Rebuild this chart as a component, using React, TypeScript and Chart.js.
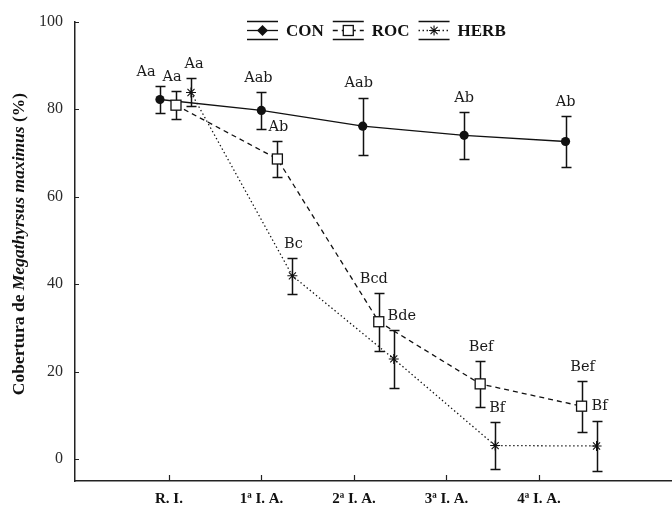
import React, { useEffect, useRef } from 'react';
import { Chart, registerables } from 'chart.js';

Chart.register(...registerables);

// ---------- data ----------
const categories = ['R. I.', '1ª I. A.', '2ª I. A.', '3ª I. A.', '4ª I. A.'];
const yTicks = [0, 20, 40, 60, 80, 100];

const conMean = [82.2, 79.7, 76.1, 74.0, 72.6];
const conErr = [3.1, 4.2, 6.5, 5.3, 5.8];
const conLetters = ['Aa', 'Aab', 'Aab', 'Ab', 'Ab'];

const rocMean = [80.9, 68.6, 31.4, 17.2, 12.1];
const rocErr = [3.2, 4.1, 6.6, 5.2, 5.8];
const rocLetters = ['Aa', 'Ab', 'Bcd', 'Bef', 'Bef'];

const herbMean = [83.8, 41.9, 22.9, 3.1, 3.0];
const herbErr = [3.2, 4.1, 6.6, 5.4, 5.8];
const herbLetters = ['Aa', 'Bc', 'Bde', 'Bf', 'Bf'];

const seriesNames = ['CON', 'ROC', 'HERB'];

// ---------- layout / style ----------
const SERIES_SHIFT = [0, 0.158, 0.306];
const LETTER_DX = [
  [-14, -3, -4, 0, 0],
  [-4, 1, -5, 1, 1],
  [3, 1, 8, 2, 3],
];
const INK = '#111';
const SERIF = '"Liberation Serif", "Times New Roman", serif';
const LETTER_FONT = '14.5px "DejaVu Serif", serif';

const makePoints = (means: number[], shift: number) =>
  means.map((v, i) => ({ x: i + shift, y: v }));

function drawMarker(ctx: CanvasRenderingContext2D, kind: number, x: number, y: number, legend = false) {
  ctx.save();
  ctx.lineWidth = 1.3;
  ctx.strokeStyle = INK;
  ctx.setLineDash([]);
  if (kind === 0) {
    ctx.fillStyle = INK;
    ctx.beginPath();
    if (legend) {
      ctx.moveTo(x, y - 5.5); ctx.lineTo(x + 5.5, y); ctx.lineTo(x, y + 5.5); ctx.lineTo(x - 5.5, y); ctx.closePath();
    } else {
      ctx.arc(x, y, 4.6, 0, Math.PI * 2);
    }
    ctx.fill();
  } else if (kind === 1) {
    ctx.fillStyle = '#fff';
    ctx.fillRect(x - 5, y - 5, 10, 10);
    ctx.strokeRect(x - 5, y - 5, 10, 10);
  } else {
    ctx.lineWidth = 1.1;
    const r = 5;
    ctx.beginPath();
    for (let k = 0; k < 4; k++) {
      const a = (k * Math.PI) / 4;
      ctx.moveTo(x - r * Math.cos(a), y - r * Math.sin(a));
      ctx.lineTo(x + r * Math.cos(a), y + r * Math.sin(a));
    }
    ctx.stroke();
  }
  ctx.restore();
}

const DASHES = [[], [5, 4], [1.4, 2.6]];

const customPlugin = {
  id: 'customDraw',
  beforeDatasetsDraw(chart: any) {
    const ctx = chart.ctx as CanvasRenderingContext2D;
    const ys = chart.scales.y;
    ctx.save();
    ctx.strokeStyle = INK;
    ctx.lineWidth = 1.5;
    ctx.setLineDash([]);
    chart.data.datasets.forEach((ds: any, di: number) => {
      const meta = chart.getDatasetMeta(di);
      meta.data.forEach((pt: any, i: number) => {
        const v = ds.data[i].y;
        const e = ds.errors[i];
        const yt = Math.round(ys.getPixelForValue(v + e)) + 0.5;
        const yb = Math.round(ys.getPixelForValue(v - e)) + 0.5;
        const x = Math.round(pt.x) + 0.5;
        ctx.beginPath();
        ctx.moveTo(x, yt); ctx.lineTo(x, yb);
        ctx.moveTo(x - 5, yt); ctx.lineTo(x + 5, yt);
        ctx.moveTo(x - 5, yb); ctx.lineTo(x + 5, yb);
        ctx.stroke();
      });
    });
    ctx.restore();
  },
  afterDatasetsDraw(chart: any) {
    const ctx = chart.ctx as CanvasRenderingContext2D;
    const ys = chart.scales.y;
    chart.data.datasets.forEach((ds: any, di: number) => {
      const meta = chart.getDatasetMeta(di);
      meta.data.forEach((pt: any) => {
        drawMarker(ctx, di, pt.x, pt.y);
      });
    });
    ctx.save();
    ctx.font = LETTER_FONT;
    ctx.fillStyle = '#1a1a1a';
    ctx.textAlign = 'center';
    ctx.textBaseline = 'middle';
    chart.data.datasets.forEach((ds: any, di: number) => {
      const meta = chart.getDatasetMeta(di);
      meta.data.forEach((pt: any, i: number) => {
        const v = ds.data[i].y;
        const yt = ys.getPixelForValue(v + ds.errors[i]);
        ctx.fillText(ds.letters[i], pt.x + LETTER_DX[di][i], yt - 14);
      });
    });
    ctx.restore();
  },
  afterDraw(chart: any) {
    const ctx = chart.ctx as CanvasRenderingContext2D;
    const xs = chart.scales.x;
    const ys = chart.scales.y;
    const area = chart.chartArea;
    ctx.save();
    ctx.strokeStyle = '#222';
    ctx.lineWidth = 1.2;
    ctx.beginPath();
    xs.ticks.forEach((t: any) => {
      const px = Math.round(xs.getPixelForValue(t.value)) + 0.5;
      ctx.moveTo(px, area.bottom); ctx.lineTo(px, area.bottom - 6);
    });
    ys.ticks.forEach((t: any) => {
      const py = Math.round(ys.getPixelForValue(t.value)) + 0.5;
      ctx.moveTo(area.left, py); ctx.lineTo(area.left + 4, py);
    });
    ctx.stroke();

    // y-axis title with italic species name
    const parts = [
      { t: 'Cobertura de ', f: `bold 17.5px ${SERIF}` },
      { t: 'Megathyrsus maximus', f: `italic bold 17.5px ${SERIF}` },
      { t: ' (%)', f: `bold 17.5px ${SERIF}` },
    ];
    let total = 0;
    parts.forEach((p) => { ctx.font = p.f; total += ctx.measureText(p.t).width; });
    ctx.translate(19, 244);
    ctx.rotate(-Math.PI / 2);
    ctx.fillStyle = INK;
    ctx.textBaseline = 'middle';
    ctx.textAlign = 'left';
    let cx = -total / 2;
    parts.forEach((p) => { ctx.font = p.f; ctx.fillText(p.t, cx, 0); cx += ctx.measureText(p.t).width; });
    ctx.restore();

    // legend
    ctx.save();
    ctx.font = `bold 17px ${SERIF}`;
    ctx.textBaseline = 'middle';
    ctx.fillStyle = INK;
    let lx = 247;
    const ly = 30.5;
    seriesNames.forEach((name, k) => {
      const w = 31;
      ctx.strokeStyle = INK;
      ctx.lineWidth = 1.5;
      ctx.setLineDash([]);
      ctx.beginPath();
      ctx.moveTo(lx, 21.5); ctx.lineTo(lx + w, 21.5);
      ctx.moveTo(lx, 39.5); ctx.lineTo(lx + w, 39.5);
      ctx.stroke();
      ctx.lineWidth = 1.3;
      ctx.setLineDash(DASHES[k]);
      ctx.beginPath();
      ctx.moveTo(lx, ly); ctx.lineTo(lx + w, ly);
      ctx.stroke();
      ctx.setLineDash([]);
      drawMarker(ctx, k, lx + w / 2, ly, true);
      const tx = lx + w + 8;
      ctx.fillText(name, tx, ly + 1);
      lx = tx + ctx.measureText(name).width + 9;
    });
    ctx.restore();
  },
};

export default function App() {
  const canvasRef = useRef<HTMLCanvasElement>(null);

  useEffect(() => {
    document.body.style.margin = '0';
    const canvas = canvasRef.current;
    if (!canvas) return;
    const means = [conMean, rocMean, herbMean];
    const errs = [conErr, rocErr, herbErr];
    const letters = [conLetters, rocLetters, herbLetters];
    const chart = new Chart(canvas, {
      type: 'line',
      data: {
        datasets: seriesNames.map((name, k) => ({
          label: name,
          data: makePoints(means[k], SERIES_SHIFT[k]),
          errors: errs[k],
          letters: letters[k],
          xAxisID: 'xd',
          yAxisID: 'y',
          borderColor: INK,
          borderWidth: 1.3,
          borderDash: DASHES[k],
          pointRadius: 0,
          fill: false,
          tension: 0,
        })) as any,
      },
      options: {
        animation: false,
        responsive: false,
        devicePixelRatio: 1,
        layout: { padding: { top: 20, left: 0, right: 0, bottom: 0 } },
        plugins: { legend: { display: false }, tooltip: { enabled: false } },
        scales: {
          xd: {
            type: 'linear',
            display: false,
            min: -0.838,
            max: 5.05,
          },
          x: {
            type: 'linear',
            position: 'bottom',
            min: -1.016,
            max: 5.438,
            afterBuildTicks: (s: any) => { s.ticks = categories.map((_, i) => ({ value: i })); },
            afterFit: (s: any) => { s.height = 28; },
            grid: { display: false, drawTicks: false },
            border: { display: true, color: '#222', width: 1.5 },
            ticks: {
              padding: 9,
              autoSkip: false,
              maxRotation: 0,
              color: INK,
              font: { family: SERIF, size: 15, weight: 'bold' },
              callback: (v: any) => categories[v] ?? '',
            },
          },
          y: {
            type: 'linear',
            position: 'left',
            min: -5,
            max: 100,
            afterBuildTicks: (s: any) => { s.ticks = yTicks.map((v) => ({ value: v })); },
            afterFit: (s: any) => { s.width = 75; },
            grid: { display: false, drawTicks: false },
            border: { display: true, color: '#222', width: 1.5 },
            ticks: {
              padding: 12,
              color: '#2a2a2a',
              font: { family: SERIF, size: 16 },
            },
          },
        },
      } as any,
      plugins: [customPlugin],
    });
    return () => chart.destroy();
  }, []);

  return (
    <div style={{ width: 672, height: 509, background: '#fff' }}>
      <canvas ref={canvasRef} width={672} height={509} />
    </div>
  );
}
